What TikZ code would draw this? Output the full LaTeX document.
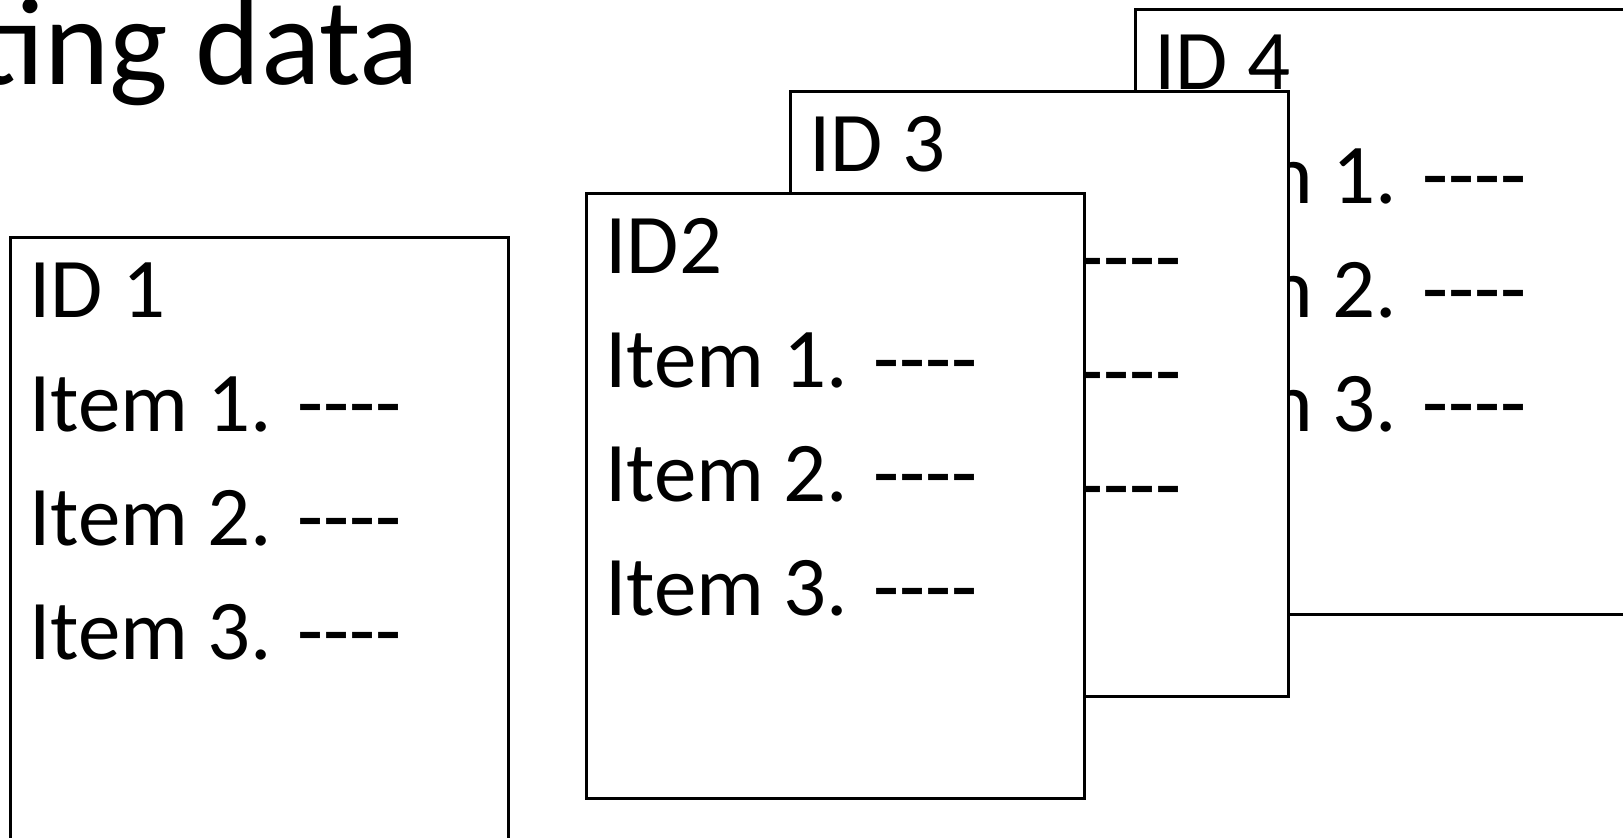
\documentclass[tikz,border=0pt]{standalone}
\usepackage{fontspec}
\setmainfont{Carlito}[Ligatures=TeXOff]
\usetikzlibrary{positioning}

\begin{document}
\begin{tikzpicture}[x=0.5pt,y=-0.5pt,
  card/.style={draw,fill=white,line width=1.3pt,anchor=north west,inner sep=0pt,
    minimum width=249pt,minimum height=302.5pt},
  entry/.style={anchor=base west,inner sep=0pt,font=\fontsize{42.5}{51}\selectfont}]
  \useasboundingbox (0,0) rectangle (1623,837);
  \clip (0,0) rectangle (1623,837);

  % title, cut at the left edge
  \node[anchor=base west,inner sep=0pt,font=\fontsize{62}{74}\selectfont] (title) at (-25,84) {ting data};

  % the cards, back to front
  \foreach \n/\x/\y/\ttl in {id4/1134/8/ID 4, id3/789/90/ID 3, id2/585/192/ID2, id1/9/236/ID 1}{
    \node[card] (\n) at (\x,\y) {};
    \node[entry] (\n-0) at ([shift={(20,81)}]\n.north west) {\ttl};
    \foreach \k in {1,2,3}
      \node[entry] (\n-\k) at ([shift={(0,114*\k)}]\n-0.base west) {Item \k. ----};
  }
\end{tikzpicture}
\end{document}
